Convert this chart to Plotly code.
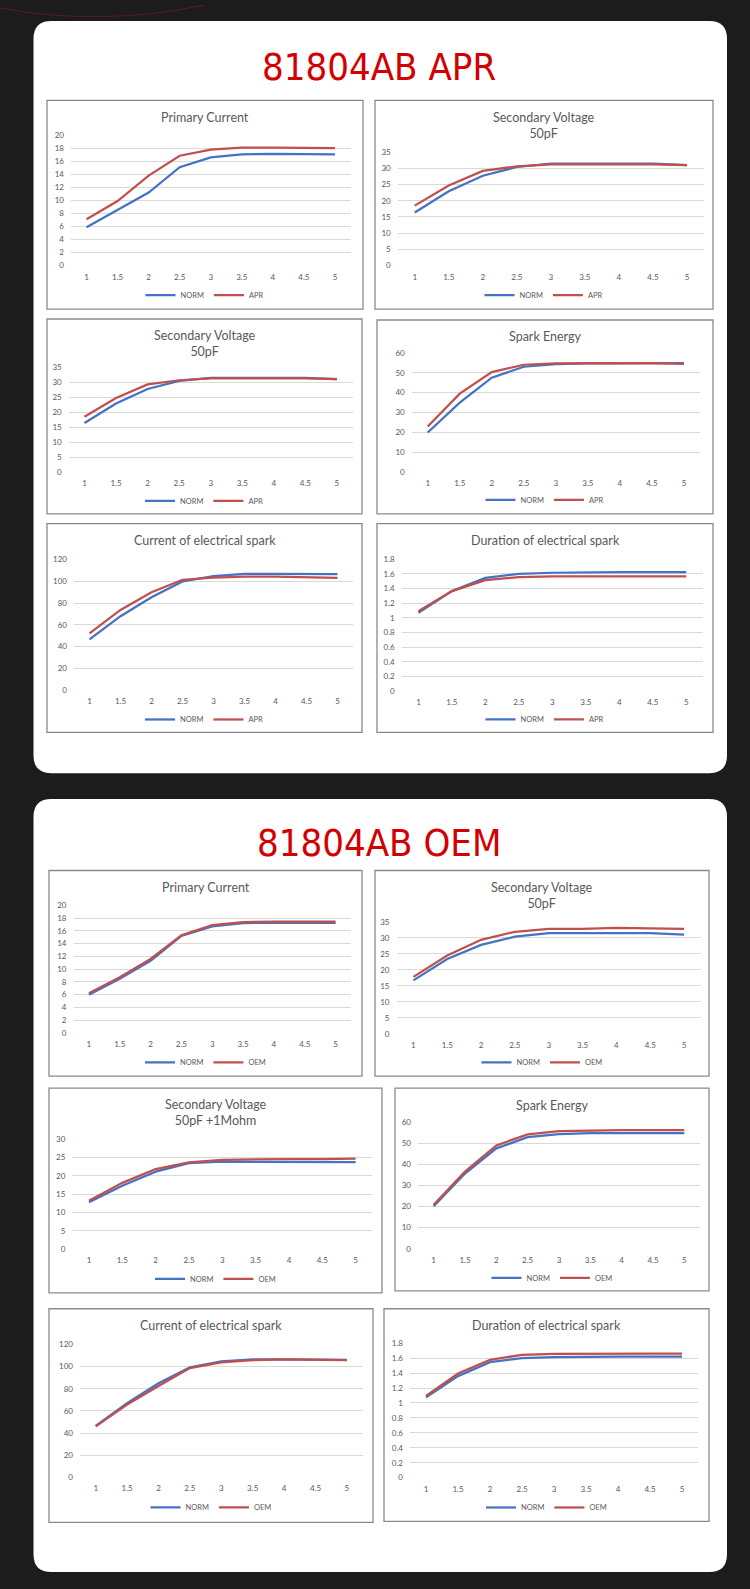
import plotly.graph_objects as go

W, H = 750, 1589

x_vals = ["1", "1.5", "2", "2.5", "3", "3.5", "4", "4.5", "5"]

# 81804AB APR
apr_primary_norm = [5.9, 8.5, 11.2, 15.1, 16.6, 17.05, 17.15, 17.1, 17.05]
apr_primary_apr = [7.1, 9.9, 13.8, 16.85, 17.8, 18.1, 18.1, 18.0, 18.0]
apr_secv_norm = [16.4, 22.9, 27.7, 30.4, 31.4, 31.5, 31.4, 31.4, 31.0]
apr_secv_apr = [18.5, 24.7, 29.2, 30.6, 31.2, 31.1, 31.2, 31.2, 31.0]
apr_energy_norm = [20, 35, 47.5, 53, 54.3, 54.7, 54.7, 54.7, 54.8]
apr_energy_apr = [23, 39.5, 50.3, 54, 54.7, 54.8, 54.8, 54.8, 54.5]
apr_current_norm = [46.6, 67.9, 85.3, 99.9, 104.8, 106.9, 106.9, 106.9, 106.6]
apr_current_apr = [52.1, 73.7, 89.9, 101.4, 103.3, 104.2, 104.2, 103.9, 103.0]
apr_duration_norm = [1.07, 1.365, 1.545, 1.60, 1.615, 1.625, 1.625, 1.625, 1.625]
apr_duration_apr = [1.09, 1.365, 1.515, 1.555, 1.565, 1.565, 1.565, 1.565, 1.565]

# 81804AB OEM
oem_primary_norm = [5.97, 8.47, 11.3, 15.2, 16.7, 17.2, 17.3, 17.25, 17.25]
oem_primary_oem = [6.2, 8.7, 11.6, 15.3, 16.9, 17.35, 17.45, 17.45, 17.45]
oem_secv_norm = [16.7, 23.4, 27.8, 30.4, 31.5, 31.6, 31.5, 31.5, 31.0]
oem_secv_oem = [17.8, 24.5, 29.4, 31.9, 32.8, 32.8, 33.1, 33.0, 32.8]
oem_secv1m_norm = [12.8, 17.25, 21.1, 23.4, 23.8, 23.8, 23.9, 23.9, 23.7]
oem_secv1m_oem = [13.2, 18.05, 21.8, 23.6, 24.3, 24.45, 24.5, 24.5, 24.6]
oem_energy_norm = [20.2, 35.6, 47.5, 52.8, 54.2, 54.7, 54.7, 54.7, 54.7]
oem_energy_oem = [20.8, 36.5, 48.9, 54.1, 55.6, 56.0, 56.1, 56.1, 56.1]
oem_current_norm = [46.4, 67.0, 85.0, 99.3, 104.7, 106.5, 106.5, 106.5, 106.2]
oem_current_oem = [46.1, 65.8, 82.6, 98.7, 103.8, 105.9, 106.5, 106.5, 105.9]
oem_duration_norm = [1.075, 1.36, 1.547, 1.6, 1.613, 1.622, 1.622, 1.622, 1.622]
oem_duration_oem = [1.093, 1.395, 1.578, 1.645, 1.658, 1.662, 1.662, 1.662, 1.662]

BLUE = '#4472c4'
RED = '#c0504d'
GREY = '#595959'
FONT = 'Lato, Open Sans, sans-serif'


def px(x):
    return x / W


def py(y):
    return 1 - y / H


# (title, box x0,x1,y0,y1, plot x0,x1,y0,y1, legend y, ymax, dtick, name2, norm, other)
charts = [
    ("Primary Current", (47, 363, 96, 306), (71, 350.5, 131, 262.3), 292, 20, 2, "APR", apr_primary_norm, apr_primary_apr),
    ("Secondary Voltage<br>50pF", (375, 713, 96, 306), (397.7, 704, 148, 262.3), 292, 35, 5, "APR", apr_secv_norm, apr_secv_apr),
    ("Secondary Voltage<br>50pF", (47, 362, 316, 512), (68.7, 352.7, 364.3, 470.3), 499, 35, 5, "APR", apr_secv_norm, apr_secv_apr),
    ("Spark Energy", (377, 713, 317, 512), (411.7, 700, 350, 470.3), 498, 60, 10, "APR", apr_energy_norm, apr_energy_apr),
    ("Current of electrical spark", (47, 362, 522, 732), (74, 353, 558, 689.5), 719, 120, 20, "APR", apr_current_norm, apr_current_apr),
    ("Duration of electrical spark", (377, 713, 522, 732), (401.7, 703, 557.7, 690.5), 719, 1.8, 0.2, "APR", apr_duration_norm, apr_duration_apr),
    ("Primary Current", (49, 362, 871, 1078), (73.5, 351, 906, 1034.3), 1064, 20, 2, "OEM", oem_primary_norm, oem_primary_oem),
    ("Secondary Voltage<br>50pF", (375, 709, 871, 1078), (396.5, 701, 922.7, 1035.3), 1064, 35, 5, "OEM", oem_secv_norm, oem_secv_oem),
    ("Secondary Voltage<br>50pF +1Mohm", (49, 382, 1090, 1296), (72.3, 372.3, 1141, 1252.3), 1282, 30, 5, "OEM", oem_secv1m_norm, oem_secv1m_oem),
    ("Spark Energy", (395, 709, 1090, 1294), (418, 700, 1124, 1251.7), 1281, 60, 10, "OEM", oem_energy_norm, oem_energy_oem),
    ("Current of electrical spark", (49, 373, 1312, 1527), (80, 362.6, 1348, 1481.7), 1512, 120, 20, "OEM", oem_current_norm, oem_current_oem),
    ("Duration of electrical spark", (384, 709, 1312, 1526), (410, 698, 1346.7, 1482), 1512, 1.8, 0.2, "OEM", oem_duration_norm, oem_duration_oem),
]

fig = go.Figure()
shapes = []
annotations = []
layout = {}


def rounded(x0, x1, y0, y1, r=18):
    rx, ry = r / W, r / H
    a, b = px(x0), px(x1)
    t, u = py(y0), py(y1)
    return (f"M {a + rx},{t} L {b - rx},{t} Q {b},{t} {b},{t - ry} "
            f"L {b},{u + ry} Q {b},{u} {b - rx},{u} L {a + rx},{u} "
            f"Q {a},{u} {a},{u + ry} L {a},{t - ry} Q {a},{t} {a + rx},{t} Z")


# white panels
for y0, y1 in [(16, 773), (799, 1577)]:
    shapes.append(dict(type='path', xref='paper', yref='paper', path=rounded(33.5, 727, y0, y1),
                       fillcolor='white', line=dict(width=0), layer='below'))

# faint red arc at the top
shapes.append(dict(type='path', xref='paper', yref='paper',
                   path=f"M {px(0)},{py(3)} Q {px(100)},{py(22)} {px(205)},{py(0)}",
                   line=dict(color='#5c1a1a', width=1), layer='below'))

for title, ty in [("81804AB APR", 62), ("81804AB OEM", 843)]:
    annotations.append(dict(text=title, x=px(379), y=py(ty), xref='paper', yref='paper',
                            showarrow=False, xanchor='center', yanchor='middle',
                            font=dict(family='Liberation Sans Narrow, DejaVu Sans Condensed, sans-serif',
                                      size=38, color='#d40000')))

for i, (title, box, area, ly, ymax, dtick, name2, norm, other) in enumerate(charts, start=1):
    bx0, bx1, by0, by1 = box
    ax0, ax1, ay0, ay1 = area
    sfx = '' if i == 1 else str(i)
    leg = 'legend' + sfx

    shapes.append(dict(type='rect', xref='paper', yref='paper',
                       x0=px(bx0), x1=px(bx1), y0=py(by0), y1=py(by1),
                       line=dict(color='#8a8a8a', width=1.3), fillcolor='white', layer='below'))

    lines = title.count('<br>') + 1
    ty = by0 + 17 + (lines - 1) * 8
    annotations.append(dict(text=title, x=px((bx0 + bx1) / 2), y=py(ty), xref='paper', yref='paper',
                            showarrow=False, xanchor='center', yanchor='middle',
                            font=dict(family=FONT, size=12.5, color=GREY)))

    fig.add_trace(go.Scatter(x=x_vals, y=norm, mode='lines', name='NORM',
                             line=dict(color=BLUE, width=2.25), xaxis='x' + sfx, yaxis='y' + sfx,
                             legend=leg))
    fig.add_trace(go.Scatter(x=x_vals, y=other, mode='lines', name=name2,
                             line=dict(color=RED, width=2.25), xaxis='x' + sfx, yaxis='y' + sfx,
                             legend=leg))

    layout['xaxis' + sfx] = dict(domain=[px(ax0), px(ax1)], anchor='y' + sfx, type='category',
                                 range=[-0.5, len(x_vals) - 0.5], showgrid=False, zeroline=False,
                                 showline=False, ticks='', ticklabelstandoff=5, fixedrange=True,
                                 tickfont=dict(family=FONT, size=8, color=GREY))
    layout['yaxis' + sfx] = dict(domain=[py(ay1), py(ay0)], anchor='x' + sfx, range=[0, ymax],
                                 dtick=dtick, tick0=0, showgrid=True, gridcolor='#d9d9d9',
                                 gridwidth=1, zeroline=False, showline=False, ticks='',
                                 ticklabelstandoff=6, fixedrange=True,
                                 tickfont=dict(family=FONT, size=8, color=GREY))
    layout[leg] = dict(x=px((bx0 + bx1) / 2), y=py(ly), xref='paper', yref='paper',
                       xanchor='center', yanchor='middle', orientation='h', itemwidth=30,
                       bgcolor='rgba(0,0,0,0)', font=dict(family=FONT, size=7.5, color=GREY),
                       itemclick=False, itemdoubleclick=False)

fig.update_layout(width=W, height=H, autosize=False, margin=dict(l=0, r=0, t=0, b=0),
                  paper_bgcolor='#1c1c1c', plot_bgcolor='rgba(0,0,0,0)',
                  shapes=shapes, annotations=annotations, showlegend=True, **layout)

fig.write_html("out.html", config={'displayModeBar': False},
               post_script="document.body.style.margin='0';document.body.style.background='#1c1c1c';"
                           "document.body.style.overflow='hidden';")
